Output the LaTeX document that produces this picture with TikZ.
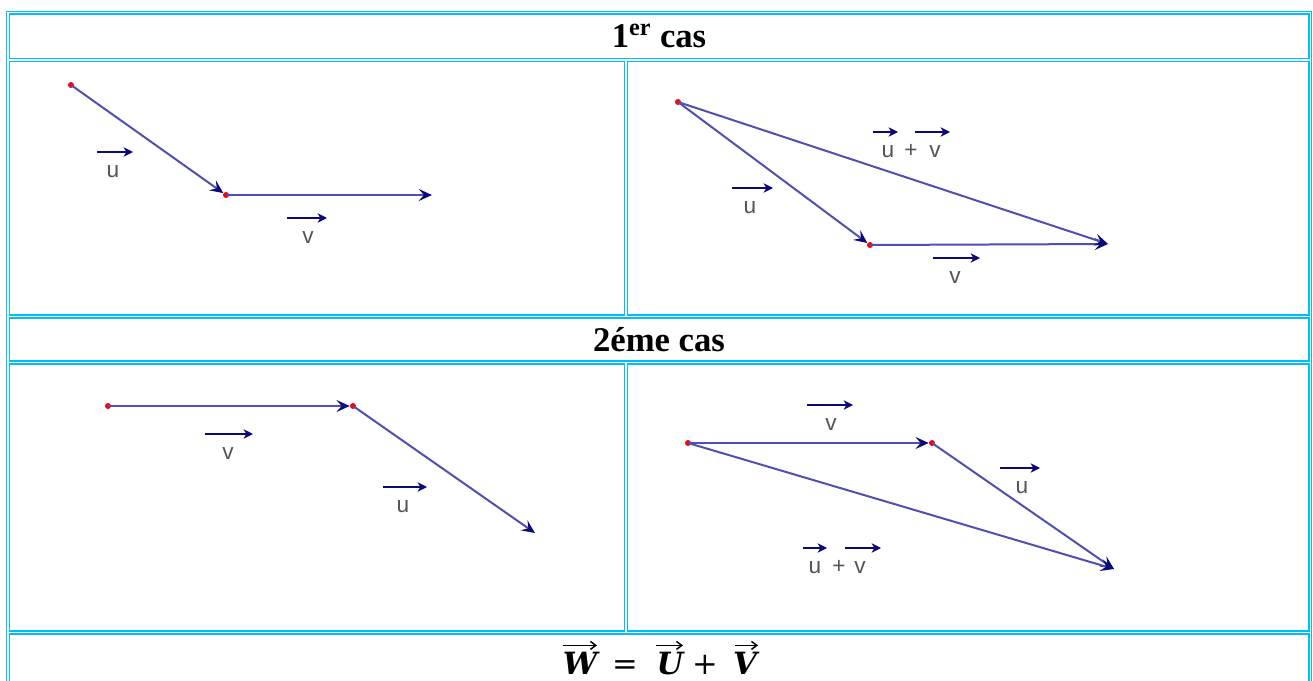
\documentclass[tikz,border=0pt]{standalone}
\usepackage{fontspec}
\setmainfont{Liberation Serif}
\setsansfont{Liberation Sans}
\newfontfamily\formfont{DejaVu Serif}
\usetikzlibrary{arrows.meta, calc}

\definecolor{tablecyan}{RGB}{0,190,250}
\definecolor{vecline}{RGB}{80,80,180}
\definecolor{vechead}{RGB}{10,10,120}
\definecolor{lblgray}{RGB}{85,85,85}

% vector label: name, position, letter, arrow start, arrow end
\newcommand{\veclab}[5]{%
  \node[lbl] (#1) at (#2) {#3};
  \draw[lblarrow] ($(#1.center)+(#4,-20)$) -- ($(#1.center)+(#5,-20)$);
}
% vector letter of the formula: name, position, letter, arrow start, arrow end
\newcommand{\formvec}[5]{%
  \node[formula] (#1) at (#2) {#3};
  \draw[formarrow] ($(#1.north)+(#4,-6)$) -- ($(#1.north)+(#5,-6)$);
}

\begin{document}
\begin{tikzpicture}[
    x=0.75pt, y=-0.75pt,
    cell/.style={draw=tablecyan, line width=1.1pt},
    title/.style={font=\fontsize{26}{30}\selectfont\bfseries, inner sep=0pt},
    formula/.style={font=\formfont\fontsize{23}{27}\selectfont\bfseries\itshape,
        inner sep=0pt, anchor=base},
    formarrow/.style={draw=black, line width=1.1pt, -{Straight Barb[length=4pt, width=6pt]}},
    dot/.style={circle, fill=red, inner sep=0pt, minimum size=4.5pt},
    vec/.style={draw=vecline, line width=1.5pt,
        -{Stealth[length=10pt, width=9pt, inset=4pt, fill=vechead, color=vechead]}},
    lbl/.style={font=\sffamily\fontsize{17}{19}\selectfont, text=lblgray, inner sep=0pt},
    lblarrow/.style={draw=vechead, line width=1.6pt,
        -{Stealth[length=7pt, width=7pt, inset=2pt]}}
]
\useasboundingbox (0,0) rectangle (1313,681);

% table frame and cells
\draw[cell] (6.5,11.5) rectangle (1311.5,700);
\draw[cell] (9.5,14) rectangle (1309,58.5);
\draw[cell] (9.5,61.5) rectangle (624.5,315);
\draw[cell] (627.5,61.5) rectangle (1309,315);
\draw[cell] (9.5,318) rectangle (1309,361);
\draw[cell] (9.5,364) rectangle (624.5,631);
\draw[cell] (627.5,364) rectangle (1309,631);
\draw[cell] (9.5,634) rectangle (1309,700);

% row titles
\node[title] (cas1) at (659,36) {1\textsuperscript{er} cas};
\node[title] (cas2) at (659,340) {2éme cas};

% W = U + V
\formvec{fW}{580,674}{W}{-17}{17}
\node[formula, font=\formfont\fontsize{23}{27}\selectfont] (fEq) at (625,674) {=};
\formvec{fU}{670,674}{U}{-14}{13}
\node[formula, font=\formfont\fontsize{23}{27}\selectfont] (fPlus) at (705,674) {+};
\formvec{fV}{745,674}{V}{-10}{13}

% 1er cas, left: u then v
\node[dot] (aTL) at (71,85) {};
\node[dot] (bTL) at (226,195) {};
\coordinate (cTL) at (432,195);
\draw[vec] (aTL.center) -- (bTL);
\draw[vec] (bTL.center) -- (cTL);
\veclab{uTL}{113,172}{u}{-16}{20}
\veclab{vTL}{308,238}{v}{-21}{19}

% 1er cas, right: u + v
\node[dot] (aTR) at (678,102) {};
\node[dot] (bTR) at (870,245) {};
\coordinate (cTR) at (1108,244);
\draw[vec] (aTR.center) -- (bTR);
\draw[vec] (bTR.center) -- (cTR);
\draw[vec] (aTR.center) -- (cTR);
\veclab{uTR}{750,208}{u}{-18}{23}
\veclab{vTR}{955,278}{v}{-22}{25}
\veclab{suTR}{888,152}{u}{-15}{10}
\node[lbl] (pTR) at (911,151) {+};
\veclab{svTR}{935,152}{v}{-20}{15}

% 2eme cas, left: v then u
\node[dot] (aBL) at (108,406) {};
\node[dot] (bBL) at (353,406) {};
\coordinate (cBL) at (535,533);
\draw[vec] (aBL.center) -- (bBL);
\draw[vec] (bBL.center) -- (cBL);
\veclab{vBL}{228,454}{v}{-23}{25}
\veclab{uBL}{403,507}{u}{-20}{24}

% 2eme cas, right: v + u
\node[dot] (aBR) at (688,443) {};
\node[dot] (bBR) at (932,443) {};
\coordinate (cBR) at (1114,569);
\draw[vec] (aBR.center) -- (bBR);
\draw[vec] (bBR.center) -- (cBR);
\draw[vec] (aBR.center) -- (cBR);
\veclab{vBR}{831,425}{v}{-24}{22}
\veclab{uBR}{1022,488}{u}{-22}{18}
\veclab{suBR}{815,568}{u}{-12}{12}
\node[lbl] (pBR) at (839,567) {+};
\veclab{svBR}{860,568}{v}{-15}{21}

\end{tikzpicture}
\end{document}
